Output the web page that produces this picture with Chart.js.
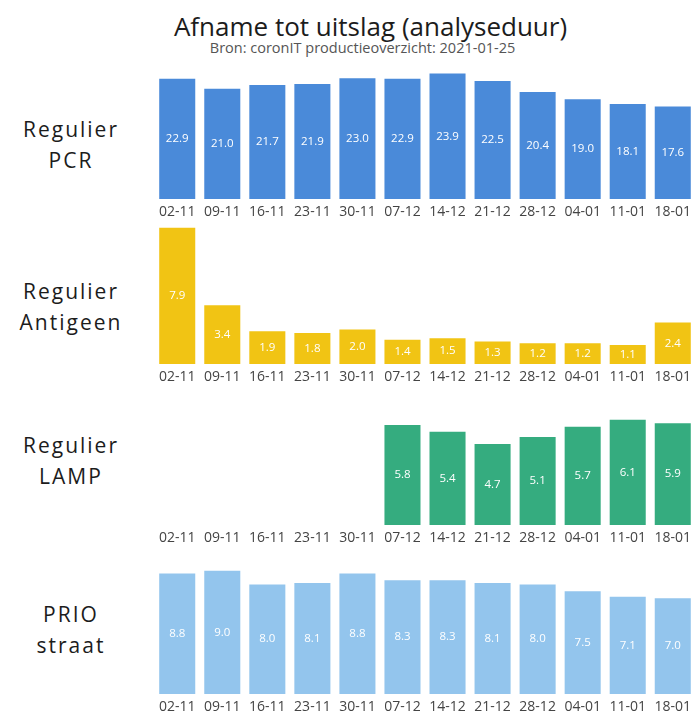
<!DOCTYPE html>
<html>
<head>
<meta charset="utf-8">
<script src="https://cdn.jsdelivr.net/npm/chart.js@4"></script>
<style>
  html, body { margin: 0; padding: 0; background: #fff; width: 694px; height: 715px; overflow: hidden; position: relative; }
  .panel { position: absolute; left: 154px; }
  .lbl { position: absolute; left: 0; width: 142px; text-align: center; font-family: "Open Sans", sans-serif;
         font-size: 21px; letter-spacing: 2px; line-height: 31px; color: #1c1c1c; white-space: nowrap; }
  #title { position: absolute; left: 0; width: 741px; top: 13px; text-align: center; font-family: "Open Sans", sans-serif;
           font-size: 26px; line-height: 1; color: #1c1c1c; white-space: nowrap; }
  #sub { position: absolute; left: 0; width: 725px; top: 41px; text-align: center; font-family: "Open Sans", sans-serif;
         font-size: 14.5px; line-height: 1; color: #555; white-space: nowrap; }
</style>
</head>
<body>
<div id="title">Afname tot uitslag (analyseduur)</div>
<div id="sub">Bron: coronIT productieoverzicht: 2021-01-25</div>

<div class="lbl" style="top:114px">Regulier<br>PCR</div>
<div class="lbl" style="top:276px">Regulier<br>Antigeen</div>
<div class="lbl" style="top:430px">Regulier<br>LAMP</div>
<div class="lbl" style="top:599px">PRIO<br>straat</div>

<canvas id="pcr" class="panel"></canvas>
<canvas id="antigeen" class="panel"></canvas>
<canvas id="lamp" class="panel"></canvas>
<canvas id="prio" class="panel"></canvas>

<script>
const weeks = ["02-11", "09-11", "16-11", "23-11", "30-11", "07-12", "14-12", "21-12", "28-12", "04-01", "11-01", "18-01"];
const pcr = [22.9, 21.0, 21.7, 21.9, 23.0, 22.9, 23.9, 22.5, 20.4, 19.0, 18.1, 17.6];
const antigeen = [7.9, 3.4, 1.9, 1.8, 2.0, 1.4, 1.5, 1.3, 1.2, 1.2, 1.1, 2.4];
const lamp = [null, null, null, null, null, 5.8, 5.4, 4.7, 5.1, 5.7, 6.1, 5.9];
const prio = [8.8, 9.0, 8.0, 8.1, 8.8, 8.3, 8.3, 8.1, 8.0, 7.5, 7.1, 7.0];

const AXIS_H = 24;

// white value in the middle of every bar
const barValues = {
  id: "barValues",
  afterDatasetsDraw(chart) {
    const ctx = chart.ctx;
    const ds = chart.data.datasets[0];
    ctx.save();
    ctx.fillStyle = "#fff";
    ctx.font = "11.5px 'Open Sans'";
    ctx.textAlign = "center";
    ctx.textBaseline = "middle";
    chart.getDatasetMeta(0).data.forEach((bar, i) => {
      const v = ds.data[i];
      if (v == null) return;
      ctx.fillText(v.toFixed(1), bar.x, (bar.y + bar.base) / 2);
    });
    ctx.restore();
  },
};

const panel = ({ id, data, color, max, top, area }) => {
  const el = document.getElementById(id);
  el.width = 542;
  el.height = area + AXIS_H;
  el.style.top = top + "px";
  el.style.width = "542px";
  el.style.height = area + AXIS_H + "px";
  return new Chart(el.getContext("2d"), {
    type: "bar",
    data: {
      labels: weeks,
      datasets: [{ data, backgroundColor: color, barPercentage: 0.8, categoryPercentage: 1 }],
    },
    options: {
      animation: false,
      responsive: false,
      layout: { padding: 0 },
      plugins: { legend: { display: false }, tooltip: { enabled: false } },
      scales: {
        x: {
          grid: { display: false, drawTicks: false },
          border: { display: false },
          ticks: { color: "#444", padding: 5, font: { family: "Open Sans", size: 14 }, maxRotation: 0, autoSkip: false },
          afterFit: (s) => { s.height = AXIS_H; },
        },
        y: { display: false, min: 0, max },
      },
    },
    plugins: [barValues],
  });
};

panel({ id: "pcr", data: pcr, color: "#4a8ad9", max: 24, top: 73, area: 126 });
panel({ id: "antigeen", data: antigeen, color: "#f1c414", max: 8, top: 226, area: 138 });
panel({ id: "lamp", data: lamp, color: "#35ac7f", max: 6.2, top: 418, area: 107 });
panel({ id: "prio", data: prio, color: "#93c5ed", max: 9.2, top: 568, area: 126 });
</script>
</body>
</html>
